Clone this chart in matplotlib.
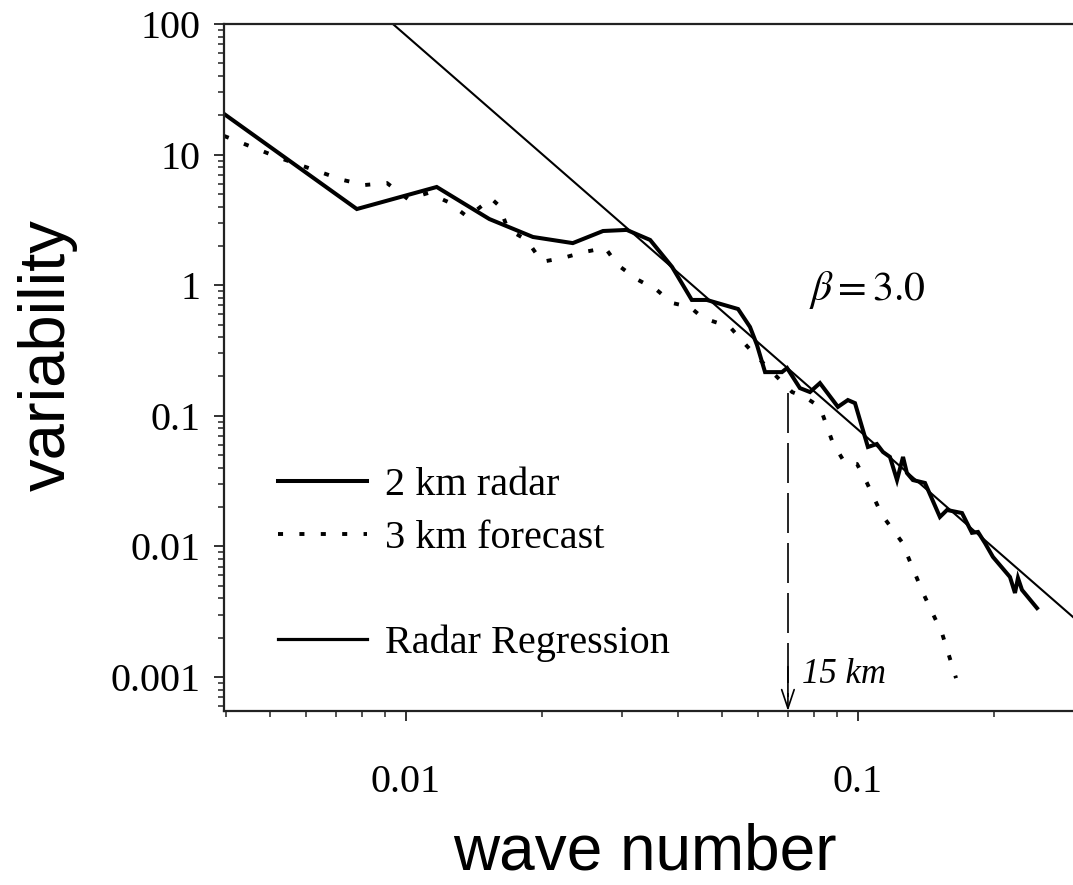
# Variability spectrum: 2 km radar vs 3 km forecast, log-log
import matplotlib
matplotlib.use("Agg")
import matplotlib.pyplot as plt
from matplotlib.lines import Line2D
from matplotlib.ticker import NullFormatter

plt.rcParams['font.family'] = ['Liberation Serif', 'DejaVu Serif']
plt.rcParams['mathtext.fontset'] = 'stix'

# ---- data ----
radar_k = [0.00396, 0.00779, 0.0117, 0.0153, 0.0191, 0.0234, 0.0273, 0.0308,
           0.0347, 0.0388, 0.0429, 0.0463, 0.0543, 0.0577, 0.0598, 0.0623,
           0.0679, 0.0697, 0.0744, 0.0783, 0.0824, 0.0903, 0.0950, 0.0985,
           0.1052, 0.1101, 0.1136, 0.1177, 0.1220, 0.1258, 0.1283, 0.1323,
           0.1407, 0.1518, 0.1574, 0.1699, 0.1787, 0.1843, 0.1910, 0.1989,
           0.2169, 0.2225, 0.2259, 0.2306, 0.2489]
radar_var = [20.5, 3.83, 5.65, 3.21, 2.34, 2.10, 2.60, 2.65,
             2.22, 1.38, 0.771, 0.771, 0.657, 0.479, 0.348, 0.216,
             0.216, 0.232, 0.163, 0.152, 0.178, 0.117, 0.132, 0.125,
             0.0577, 0.0608, 0.0528, 0.0484, 0.0322, 0.0484, 0.0365, 0.0322,
             0.0306, 0.0168, 0.0190, 0.0180, 0.0127, 0.0129, 0.0106, 0.0083,
             0.00583, 0.00440, 0.00573, 0.00464, 0.00337]

fcst_k = [0.00396, 0.00526, 0.00726, 0.00811, 0.00908, 0.0101, 0.0112, 0.0124,
          0.0137, 0.0148, 0.0154, 0.0161, 0.0168, 0.0185, 0.0200, 0.0223,
          0.0249, 0.0276, 0.0294, 0.0326, 0.0359, 0.0388, 0.0425, 0.0454,
          0.0521, 0.0568, 0.0623, 0.0715, 0.0763, 0.0824, 0.0880, 0.0936,
          0.0995, 0.1047, 0.1130, 0.1251, 0.1393, 0.1534, 0.1648]
fcst_var = [13.9, 9.42, 6.39, 5.85, 6.06, 4.57, 5.08, 4.34,
            3.33, 4.11, 4.65, 4.04, 2.69, 2.22, 1.51, 1.62,
            1.80, 1.93, 1.43, 1.10, 0.919, 0.731, 0.681, 0.561,
            0.479, 0.342, 0.245, 0.152, 0.139, 0.117, 0.0619, 0.0435,
            0.0428, 0.0306, 0.0174, 0.0108, 0.0044, 0.00217, 0.00098]

# radar regression line (beta = 3.0), end points
reg_k = [0.00936, 0.30]
reg_var = [100, 0.00285]

cutoff_k = 0.07      # 15 km
cutoff_top = 0.15

x_ticks = [0.01, 0.1]
y_ticks = [0.001, 0.01, 0.1, 1, 10, 100]

# ---- figure ----
fig = plt.figure(figsize=(10.73, 8.85), dpi=100)
ax = fig.add_axes([224 / 1073, 1 - 711 / 885, 849 / 1073, 687 / 885])
ax.set_xscale('log')
ax.set_yscale('log')
ax.set_xlim(0.00396, 0.299)
ax.set_ylim(0.000549, 100)

radar_line, = ax.plot(radar_k, radar_var, color='black', lw=2.9,
                      solid_joinstyle='miter')
fcst_line, = ax.plot(fcst_k, fcst_var, color='black', lw=2.8,
                     linestyle=(0, (1.3, 4.2)))
ax.plot(reg_k, reg_var, color='black', lw=1.5)

# 15 km cut-off
ax.plot([cutoff_k, cutoff_k], [cutoff_top, 0.0007], color='black', lw=1.2,
        linestyle=(0, (24, 6)))
ax.annotate('', xy=(cutoff_k, 0.000549), xytext=(cutoff_k, 0.0012),
            arrowprops=dict(arrowstyle='->,head_length=0.9,head_width=0.3',
                            lw=1.2, color='black', mutation_scale=15,
                            shrinkA=0, shrinkB=0))
ax.text(0.0752, 0.0009, '15 km', style='italic', fontsize=25, va='baseline')
ax.text(0.105, 0.918, r'$\beta = 3.0$', fontsize=30, ha='center', va='center')

# axes styling
for side in ['left', 'bottom', 'top']:
    ax.spines[side].set_linewidth(1.6)
    ax.spines[side].set_color('#222222')
ax.spines['right'].set_visible(False)

ax.set_xticks(x_ticks)
ax.set_xticklabels(['0.01', '0.1'])
ax.set_yticks(y_ticks)
ax.set_yticklabels(['0.001', '0.01', '0.1', '1', '10', '100'])
ax.xaxis.set_minor_formatter(NullFormatter())
ax.yaxis.set_minor_formatter(NullFormatter())
ax.tick_params(which='major', direction='out', length=7, width=1.3,
               labelsize=29, color='#222222')
ax.tick_params(which='minor', direction='out', length=4.5, width=1.1,
               color='#222222')
ax.tick_params(axis='x', which='major', pad=31)
ax.tick_params(axis='y', which='major', pad=10)

# legend with a blank row before the regression entry
blank = Line2D([], [], color='none')
reg_handle = Line2D([], [], color='black', lw=2.3)
ax.legend([radar_line, fcst_line, blank, reg_handle],
          ['2 km radar', '3 km forecast', '', 'Radar Regression'],
          loc='upper left', bbox_to_anchor=(0.0636, 0.355), frameon=False,
          fontsize=29, handlelength=2.2, handletextpad=0.45,
          labelspacing=0.38, borderpad=0, borderaxespad=0)

fig.text(645 / 1073, 1 - 853 / 885, 'wave number', family='Liberation Sans',
         fontsize=46, ha='center', va='center')
fig.text(48 / 1073, 1 - 355 / 885, 'variability', family='Liberation Sans',
         fontsize=47, ha='center', va='center', rotation=90)

fig.savefig('out.png', dpi=100)
